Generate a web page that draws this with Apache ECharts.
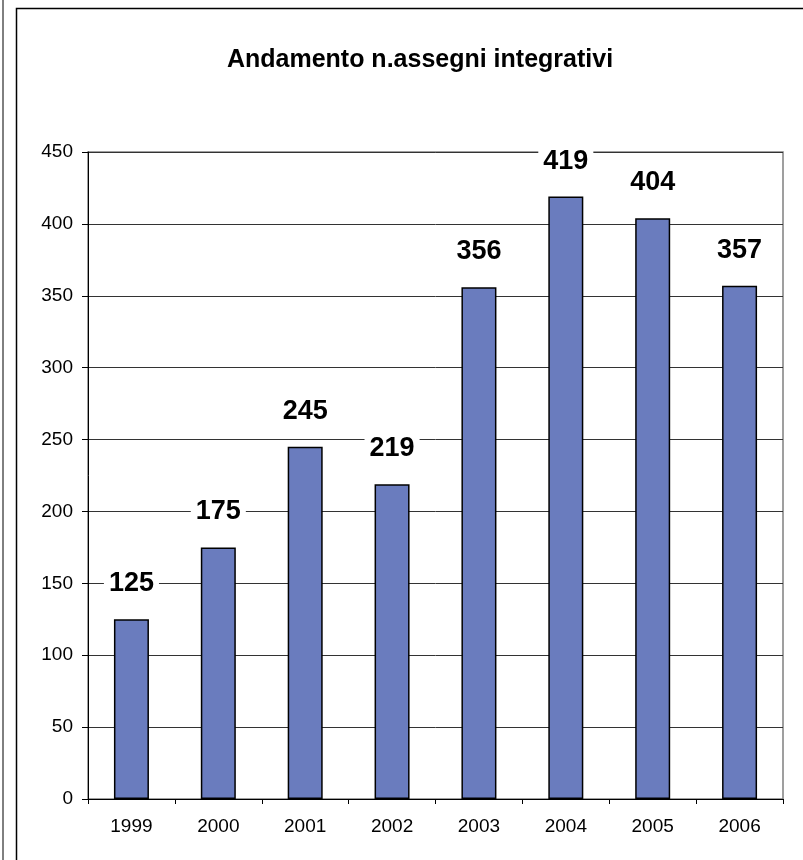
<!DOCTYPE html>
<html>
<head>
<meta charset="utf-8">
<script src="https://cdn.jsdelivr.net/npm/echarts@6/dist/echarts.min.js"></script>
<style>
html,body{margin:0;padding:0;background:#fff;}
#c{width:803px;height:860px;}
</style>
</head>
<body>
<div id="c"></div>
<script>
var titleText = 'Andamento n.assegni integrativi';
var categories = ['1999','2000','2001','2002','2003','2004','2005','2006'];
var values = [125, 175, 245, 219, 356, 419, 404, 357];
var yTicks = {min: 0, max: 450, interval: 50};

var chart = echarts.init(document.getElementById('c'), null, {renderer: 'canvas'});
var FONT = 'Liberation Sans, Arial, sans-serif';
chart.setOption({
  backgroundColor: '#fff',
  animation: false,
  title: {
    text: titleText,
    left: 415,
    top: 43,
    textAlign: 'center',
    textStyle: {fontFamily: FONT, fontWeight: 'bold', fontSize: 25, color: '#000'}
  },
  graphic: [
    {type: 'line', shape: {x1: 3, y1: 0, x2: 3, y2: 860}, style: {stroke: '#000', lineWidth: 1}},
    {type: 'polyline', shape: {points: [[16.5, 860], [16.5, 8.5], [803, 8.5]]}, style: {stroke: '#000', lineWidth: 1.5, fill: null}}
  ],
  grid: {
    left: 88, right: 20, top: 152, bottom: 61,
    show: true, borderColor: '#808080', borderWidth: 1.5, backgroundColor: 'transparent'
  },
  xAxis: {
    type: 'category',
    data: categories,
    axisLine: {lineStyle: {color: '#000', width: 1}},
    axisTick: {show: true, alignWithLabel: false, length: 5, lineStyle: {color: '#000'}},
    axisLabel: {fontFamily: FONT, fontSize: 19, color: '#000', margin: 18}
  },
  yAxis: {
    type: 'value',
    min: yTicks.min, max: yTicks.max, interval: yTicks.interval,
    axisLine: {show: true, lineStyle: {color: '#000', width: 1}},
    axisTick: {show: true, length: 6, lineStyle: {color: '#000'}},
    axisLabel: {fontFamily: FONT, fontSize: 19, color: '#000', margin: 15},
    splitLine: {show: true, lineStyle: {color: '#333', width: 1}}
  },
  series: [{
    type: 'bar',
    data: values,
    barWidth: 35,
    itemStyle: {color: '#6A7CBE', borderColor: '#000', borderWidth: 1.5},
    label: {
      show: true,
      position: 'top',
      distance: 21,
      fontFamily: FONT,
      fontWeight: 'bold',
      fontSize: 27,
      color: '#000',
      backgroundColor: '#fff',
      padding: [1, 5]
    }
  }]
});
</script>
</body>
</html>
